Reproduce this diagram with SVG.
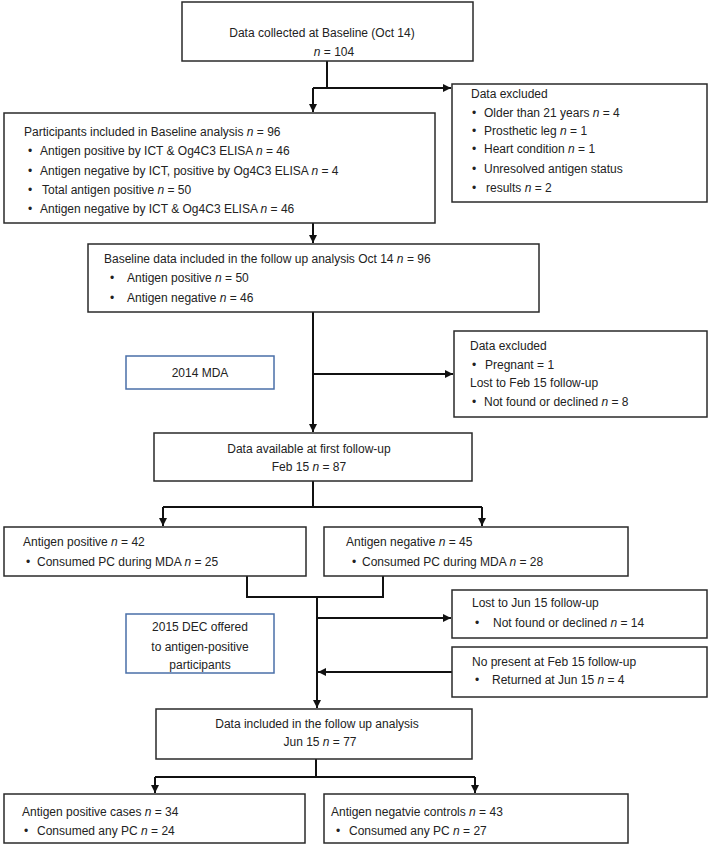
<svg xmlns="http://www.w3.org/2000/svg" width="709" height="845" viewBox="0 0 709 845">
<style>
.box{fill:#fff;stroke:#2a2a2a;stroke-width:1.5}
.bbox{fill:#fff;stroke:#4a6fa8;stroke-width:1.5}
.ln{fill:none;stroke:#111;stroke-width:2}
text{font-family:"Liberation Sans",Arial,sans-serif;font-size:12px;fill:#222}
.c{text-anchor:middle}
.i{font-style:italic}
</style>
<defs>
<marker id="ah" markerUnits="userSpaceOnUse" markerWidth="9" markerHeight="9" refX="8" refY="4.5" orient="auto">
<path d="M0,0.5 L8,4.5 L0,8.5 z" fill="#111"/>
</marker>
</defs>
<rect width="709" height="845" fill="#fff"/>

<g id="connectors">
<path class="ln" d="M327,61 V88 H313"/>
<path class="ln" d="M313,88 H451" marker-end="url(#ah)"/>
<path class="ln" d="M313,88 V112" marker-end="url(#ah)"/>
<path class="ln" d="M313,223 V243" marker-end="url(#ah)"/>
<path class="ln" d="M313,312 V432" marker-end="url(#ah)"/>
<path class="ln" d="M313,374 H453" marker-end="url(#ah)"/>
<path class="ln" d="M313,481 V507"/>
<path class="ln" d="M163,507 H482"/>
<path class="ln" d="M163,507 V526" marker-end="url(#ah)"/>
<path class="ln" d="M482,507 V526" marker-end="url(#ah)"/>
<path class="ln" d="M247,576 V597 H383 V576"/>
<path class="ln" d="M317,597 V708" marker-end="url(#ah)"/>
<path class="ln" d="M317,618 H451" marker-end="url(#ah)"/>
<path class="ln" d="M452,672 H318" marker-end="url(#ah)"/>
<path class="ln" d="M316,759 V777"/>
<path class="ln" d="M155,777 H475"/>
<path class="ln" d="M155,777 V793" marker-end="url(#ah)"/>
<path class="ln" d="M475,777 V793" marker-end="url(#ah)"/>
</g>

<g id="baseline-collected">
<rect class="box" x="182" y="2" width="291" height="59"/>
<text class="c" x="322" y="37">Data collected at Baseline (Oct 14)</text>
<text class="c" x="334" y="56"><tspan class="i">n</tspan> = 104</text>
</g>

<g id="excluded-1">
<rect class="box" x="452" y="84" width="255" height="118"/>
<text x="471" y="98">Data excluded</text>
<text x="472" y="117">•</text><text x="484" y="117">Older than 21 years <tspan class="i">n</tspan> = 4</text>
<text x="472" y="135">•</text><text x="484" y="135">Prosthetic leg <tspan class="i">n</tspan> = 1</text>
<text x="472" y="153">•</text><text x="484" y="153">Heart condition <tspan class="i">n</tspan> = 1</text>
<text x="472" y="173">•</text><text x="484" y="173">Unresolved antigen status</text>
<text x="472" y="192">•</text><text x="486" y="192">results <tspan class="i">n</tspan> = 2</text>
</g>

<g id="participants">
<rect class="box" x="4" y="113" width="431" height="110"/>
<text x="24" y="136">Participants included in Baseline analysis <tspan class="i">n</tspan> = 96</text>
<text x="28" y="155">•</text><text x="40" y="155">Antigen positive by ICT &amp; Og4C3 ELISA <tspan class="i">n</tspan> = 46</text>
<text x="28" y="175">•</text><text x="40" y="175">Antigen negative by ICT, positive by Og4C3 ELISA <tspan class="i">n</tspan> = 4</text>
<text x="28" y="194">•</text><text x="42" y="194">Total antigen positive <tspan class="i">n</tspan> = 50</text>
<text x="28" y="213">•</text><text x="40" y="213">Antigen negative by ICT &amp; Og4C3 ELISA <tspan class="i">n</tspan> = 46</text>
</g>

<g id="baseline-followup">
<rect class="box" x="88" y="244" width="451" height="68"/>
<text x="104" y="263">Baseline data included in the follow up analysis Oct 14 <tspan class="i">n</tspan> = 96</text>
<text x="110" y="282">•</text><text x="127" y="282">Antigen positive <tspan class="i">n</tspan> = 50</text>
<text x="110" y="302">•</text><text x="127" y="302">Antigen negative <tspan class="i">n</tspan> = 46</text>
</g>

<g id="mda-2014">
<rect class="bbox" x="126" y="356" width="148" height="33"/>
<text class="c" x="200" y="377">2014 MDA</text>
</g>

<g id="excluded-2">
<rect class="box" x="454" y="331" width="253" height="86"/>
<text x="470" y="350">Data excluded</text>
<text x="472" y="369">•</text><text x="485" y="369">Pregnant = 1</text>
<text x="470" y="387">Lost to Feb 15 follow-up</text>
<text x="472" y="406">•</text><text x="484" y="406">Not found or declined <tspan class="i">n</tspan> = 8</text>
</g>

<g id="first-followup">
<rect class="box" x="154" y="433" width="318" height="48"/>
<text class="c" x="309" y="453">Data available at first follow-up</text>
<text class="c" x="309" y="471">Feb 15 <tspan class="i">n</tspan> = 87</text>
</g>

<g id="antigen-positive-feb">
<rect class="box" x="4" y="527" width="302" height="49"/>
<text x="23" y="546">Antigen positive <tspan class="i">n</tspan> = 42</text>
<text x="26" y="566">•</text><text x="37" y="566">Consumed PC during MDA <tspan class="i">n</tspan> = 25</text>
</g>

<g id="antigen-negative-feb">
<rect class="box" x="324" y="527" width="304" height="49"/>
<text x="346" y="546">Antigen negative <tspan class="i">n</tspan> = 45</text>
<text x="352" y="566">•</text><text x="362" y="566">Consumed PC during MDA <tspan class="i">n</tspan> = 28</text>
</g>

<g id="lost-jun">
<rect class="box" x="452" y="590" width="255" height="48"/>
<text x="472" y="607">Lost to Jun 15 follow-up</text>
<text x="475" y="627">•</text><text x="493" y="627">Not found or declined <tspan class="i">n</tspan> = 14</text>
</g>

<g id="dec-2015">
<rect class="bbox" x="126" y="614" width="148" height="59"/>
<text class="c" x="200" y="631">2015 DEC offered</text>
<text class="c" x="200" y="651">to antigen-positive</text>
<text class="c" x="200" y="669">participants</text>
</g>

<g id="not-present">
<rect class="box" x="452" y="647" width="255" height="50"/>
<text x="472" y="666">No present at Feb 15 follow-up</text>
<text x="475" y="684">•</text><text x="492" y="684">Returned at Jun 15 <tspan class="i">n</tspan> = 4</text>
</g>

<g id="jun-followup">
<rect class="box" x="156" y="709" width="316" height="50"/>
<text class="c" x="317" y="728">Data included in the follow up analysis</text>
<text class="c" x="320" y="746">Jun 15 <tspan class="i">n</tspan> = 77</text>
</g>

<g id="cases">
<rect class="box" x="4" y="794" width="301" height="49"/>
<text x="22" y="816">Antigen positive cases <tspan class="i">n</tspan> = 34</text>
<text x="24" y="835">•</text><text x="37" y="835">Consumed any PC <tspan class="i">n</tspan> = 24</text>
</g>

<g id="controls">
<rect class="box" x="324" y="794" width="304" height="49"/>
<text x="331" y="816">Antigen negatvie controls <tspan class="i">n</tspan> = 43</text>
<text x="336" y="835">•</text><text x="349" y="835">Consumed any PC <tspan class="i">n</tspan> = 27</text>
</g>
</svg>
